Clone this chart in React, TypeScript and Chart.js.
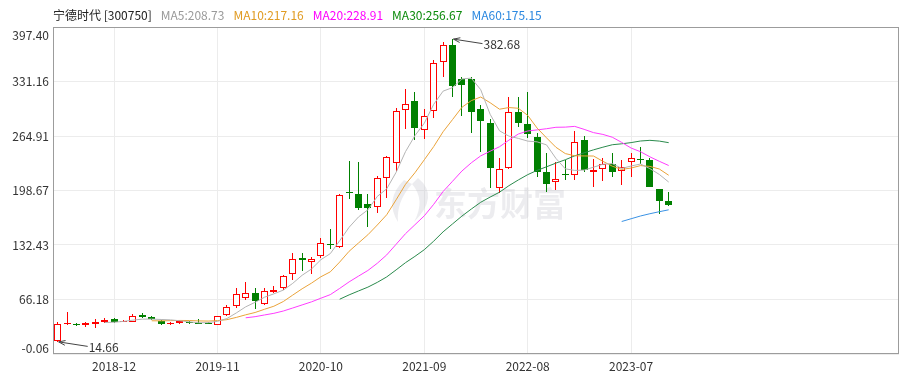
import { useEffect, useRef } from 'react';
import { Chart, registerables } from 'chart.js';

Chart.register(...registerables);

const FONT = '"Noto Sans CJK SC", "Noto Sans", sans-serif';

const months = [
  '2018-06', '2018-07', '2018-08', '2018-09', '2018-10', '2018-11', '2018-12',
  '2019-01', '2019-02', '2019-03', '2019-04', '2019-05', '2019-06', '2019-07', '2019-08', '2019-09', '2019-10', '2019-11', '2019-12',
  '2020-01', '2020-02', '2020-03', '2020-04', '2020-05', '2020-06', '2020-07', '2020-08', '2020-09', '2020-10', '2020-11', '2020-12',
  '2021-01', '2021-02', '2021-03', '2021-04', '2021-05', '2021-06', '2021-07', '2021-08', '2021-09', '2021-10', '2021-11', '2021-12',
  '2022-01', '2022-02', '2022-03', '2022-04', '2022-05', '2022-06', '2022-07', '2022-08', '2022-09', '2022-10', '2022-11', '2022-12',
  '2023-01', '2023-02', '2023-03', '2023-04', '2023-05', '2023-06', '2023-07', '2023-08', '2023-09', '2023-10', '2023-11',
];

const opens = [
  15.5, 37.0, 37.0, 34.6, 37.0, 38.9, 42.2, 39.3, 39.4, 47.4,
  44.6, 40.2, 36.3, 37.8, 38.5, 37.5, 38.0, 35.7, 47.1, 58.0,
  68.0, 73.6, 61.3, 75.4, 79.6, 96.6, 116.9, 111.6, 119.3, 133.9,
  130.3, 196.4, 194.4, 182.2, 178.2, 214.3, 231.7, 296.7, 307.6, 272.0,
  295.5, 354.8, 375.8, 334.5, 334.1, 297.9, 280.5, 201.4, 225.7, 293.9,
  279.6, 263.4, 220.8, 208.6, 218.4, 217.6, 260.2, 221.6, 224.5, 230.6,
  222.4, 233.4, 236.7, 235.8, 200.3, 185.9,
];
const closes = [
  37.0, 37.5, 34.8, 38.2, 39.0, 41.8, 38.9, 40.0, 45.8, 45.0,
  42.2, 36.5, 37.5, 40.6, 38.0, 37.0, 37.0, 45.8, 57.2, 72.3,
  74.0, 64.5, 76.7, 77.8, 95.0, 114.9, 113.7, 114.9, 134.4, 132.0,
  193.2, 195.3, 177.7, 177.7, 213.5, 239.3, 295.5, 303.6, 274.4, 289.8,
  353.6, 375.8, 325.1, 327.1, 294.6, 283.7, 226.2, 224.5, 294.6, 281.2,
  267.1, 221.6, 206.2, 212.6, 217.6, 257.4, 223.7, 223.7, 230.6, 221.6,
  227.7, 238.7, 235.8, 202.6, 186.2, 181.4,
];
const highs = [
  38.5, 50.4, 38.0, 39.0, 42.0, 43.5, 43.5, 41.0, 48.4, 49.7,
  46.0, 41.8, 38.5, 41.5, 40.5, 43.0, 39.0, 46.5, 59.4, 79.7,
  88.0, 79.7, 79.7, 82.0, 96.4, 122.2, 122.2, 117.7, 141.2, 151.4,
  195.0, 234.6, 233.0, 194.4, 216.3, 241.1, 298.8, 321.9, 318.4, 297.5,
  356.7, 379.5, 382.68, 337.2, 337.2, 302.8, 285.0, 237.9, 312.9, 312.9,
  318.2, 268.3, 244.0, 233.8, 235.8, 271.5, 265.1, 237.0, 237.9, 244.8,
  235.8, 244.0, 251.3, 237.9, 201.1, 197.2,
];
const lows = [
  14.66, 34.9, 34.0, 33.0, 31.5, 38.0, 38.0, 38.5, 39.0, 43.5,
  40.7, 35.7, 35.0, 36.8, 36.5, 36.5, 36.5, 35.3, 46.0, 56.0,
  66.0, 55.0, 60.0, 73.6, 78.0, 89.7, 101.0, 97.0, 117.0, 127.4,
  129.0, 188.7, 174.9, 153.9, 170.9, 189.0, 222.8, 274.0, 260.2, 261.0,
  286.6, 336.5, 312.2, 289.4, 268.3, 245.9, 202.0, 195.3, 224.5, 276.4,
  262.2, 215.0, 197.3, 199.3, 211.5, 211.5, 221.6, 203.3, 210.3, 215.5,
  205.3, 215.5, 230.6, 202.6, 169.7, 179.8,
];

const ma5 = [
  null, null, null, null, null,
  38.26, 38.54, 39.58, 41.10, 42.30, 42.38,
  41.90, 41.40, 40.36, 38.96, 37.92, 38.02, 39.68, 43.00, 49.86, 57.26,
  62.76, 68.94, 73.06, 77.60, 85.78, 95.62, 103.26, 114.58, 121.98, 137.64,
  153.96, 166.52, 175.18, 191.48, 200.70, 220.74, 245.92, 265.26, 280.52, 303.38,
  319.44, 323.74, 334.28, 335.24, 321.26, 291.34, 271.22, 264.72, 262.04, 258.72,
  257.80, 254.14, 237.74, 225.02, 223.08, 223.50, 227.00, 230.60, 231.40, 225.46,
  228.46, 230.88, 225.28, 218.20, 208.94,
];
const ma10 = [
  null, null, null, null, null, null, null, null, null, null,
  40.32, 40.22, 40.49, 40.73, 40.63, 40.15, 39.96, 40.54, 41.68, 44.41,
  47.59, 50.39, 54.31, 58.03, 63.73, 71.52, 79.19, 86.10, 93.82, 99.79,
  111.71, 124.79, 134.89, 144.88, 156.73, 169.17, 187.35, 206.22, 220.22, 236.00,
  252.04, 270.09, 284.83, 299.77, 307.88, 312.32, 305.39, 297.48, 299.50, 298.64,
  289.99, 274.57, 262.68, 251.23, 243.53, 240.90, 240.65, 240.57, 234.17, 228.21,
  224.27, 225.98, 228.94, 227.94, 224.80, 217.20,
];
const ma20 = [
  null, null, null, null, null, null, null, null, null, null,
  null, null, null, null, null, null, null, null, null, null,
  43.96, 45.31, 47.40, 49.38, 52.18, 55.84, 59.58, 63.32, 67.75, 72.10,
  79.65, 87.59, 94.60, 101.46, 110.23, 120.35, 133.27, 146.16, 157.02, 167.90,
  181.88, 197.44, 209.86, 222.33, 232.31, 240.75, 246.37, 251.85, 259.86, 267.32,
  271.02, 272.33, 273.76, 275.50, 275.71, 276.61, 273.02, 269.03, 266.84, 263.43,
  257.13, 250.28, 245.81, 239.59, 234.17, 229.05,
];
const ma30 = [
  null, null, null, null, null, null, null, null, null, null,
  null, null, null, null, null, null, null, null, null, null,
  null, null, null, null, null, null, null, null, null, null,
  66.54, 71.80, 76.56, 81.21, 87.03, 93.61, 102.17, 110.95, 118.57, 126.73,
  137.11, 148.42, 158.01, 167.56, 176.11, 184.34, 190.64, 196.60, 204.51, 211.48,
  217.91, 223.15, 227.47, 231.96, 236.05, 240.80, 244.46, 248.09, 251.30, 254.28,
  255.43, 256.88, 258.82, 259.65, 258.74, 256.81,
];
const ma60 = [
  null, null, null, null, null, null, null, null, null, null,
  null, null, null, null, null, null, null, null, null, null,
  null, null, null, null, null, null, null, null, null, null,
  null, null, null, null, null, null, null, null, null, null,
  null, null, null, null, null, null, null, null, null, null,
  null, null, null, null, null, null, null, null, null, null,
  160.99, 164.34, 167.69, 170.43, 172.88, 175.21,
];

const xTickLabels = ['2018-12', '2019-11', '2020-10', '2021-09', '2022-08', '2023-07'];
const yTickValues = [-0.06, 66.18, 132.43, 198.67, 264.91, 331.16, 397.4];
const SLOTS = 90;

const title = '宁德时代 [300750]';
const legendItems = [
  { text: 'MA5:208.73', color: '#9a9a9a' },
  { text: 'MA10:217.16', color: '#e09b22' },
  { text: 'MA20:228.91', color: '#ff00ff' },
  { text: 'MA30:256.67', color: '#0a8a0a' },
  { text: 'MA60:175.15', color: '#2b88e0' },
];
const highMark = { index: 42, value: 382.68, label: '382.68' };
const lowMark = { index: 0, value: 14.66, label: '14.66' };

const RED = '#ff0000';
const GREEN = '#008000';

function drawArrow(ctx: CanvasRenderingContext2D, tx: number, ty: number, fx: number, fy: number) {
  ctx.beginPath();
  ctx.moveTo(fx, fy);
  ctx.lineTo(tx, ty);
  ctx.stroke();
  const ang = Math.atan2(fy - ty, fx - tx);
  const len = 7;
  ctx.beginPath();
  ctx.moveTo(tx + len * Math.cos(ang + 0.35), ty + len * Math.sin(ang + 0.35));
  ctx.lineTo(tx, ty);
  ctx.lineTo(tx + len * Math.cos(ang - 0.35), ty + len * Math.sin(ang - 0.35));
  ctx.stroke();
}

const pixelSnap = {
  id: 'pixelSnap',
  afterDatasetsUpdate(chart: any) {
    chart.data.datasets.forEach((ds: any, di: number) => {
      if (ds.type !== 'bar') return;
      const meta = chart.getDatasetMeta(di);
      meta.data.forEach((el: any) => {
        el.x = Math.floor(el.x) + 0.5;
        el.y = Math.round(el.y);
        el.base = Math.round(el.base);
      });
    });
  },
};

const overlay = {
  id: 'overlay',
  beforeDatasetsDraw(chart: any) {
    const { ctx } = chart;
    ctx.save();
    ctx.fillStyle = 'rgba(200,200,208,0.35)';
    ctx.beginPath();
    ctx.moveTo(404, 180);
    ctx.quadraticCurveTo(384, 200, 398, 222);
    ctx.quadraticCurveTo(396, 202, 412, 184);
    ctx.closePath();
    ctx.fill();
    ctx.beginPath();
    ctx.moveTo(418, 178);
    ctx.quadraticCurveTo(440, 196, 414, 222);
    ctx.quadraticCurveTo(426, 200, 412, 184);
    ctx.closePath();
    ctx.fill();
    ctx.font = `bold 33px ${FONT}`;
    ctx.textAlign = 'left';
    ctx.textBaseline = 'middle';
    ctx.fillText('东方财富', 434, 203);
    ctx.restore();
  },
  afterDraw(chart: any) {
    const { ctx, chartArea: a, scales } = chart;
    const x = scales.x;
    const y = scales.y;
    ctx.save();
    ctx.strokeStyle = '#9c9c9c';
    ctx.lineWidth = 1;
    ctx.strokeRect(Math.round(a.left) + 0.5, Math.round(a.top) + 0.5, Math.round(a.right - a.left) - 1, Math.round(a.bottom - a.top) - 1);

    ctx.font = `12px ${FONT}`;
    ctx.fillStyle = '#333333';
    ctx.textAlign = 'right';
    ctx.textBaseline = 'middle';
    yTickValues.forEach((v) => {
      let py = y.getPixelForValue(v);
      py = Math.max(a.top + 8, Math.min(a.bottom - 6, py));
      ctx.fillText(v.toFixed(2), 49, py);
    });
    ctx.textAlign = 'center';
    xTickLabels.forEach((lab) => {
      const i = months.indexOf(lab);
      ctx.fillText(lab, x.getPixelForValue(i), 366);
    });

    ctx.textAlign = 'left';
    ctx.textBaseline = 'middle';
    let hx = 53;
    ctx.fillStyle = '#222222';
    ctx.fillText(title, hx, 15);
    hx += ctx.measureText(title).width + 9;
    legendItems.forEach((it) => {
      ctx.fillStyle = it.color;
      ctx.fillText(it.text, hx, 15);
      hx += ctx.measureText(it.text).width + 9;
    });

    ctx.strokeStyle = '#444444';
    ctx.fillStyle = '#333333';
    ctx.lineWidth = 1;
    [highMark, lowMark].forEach((m) => {
      const px = x.getPixelForValue(m.index);
      const py = y.getPixelForValue(m.value);
      drawArrow(ctx, px + 1, py, px + 30, py + 4.5);
      ctx.textAlign = 'left';
      ctx.fillText(m.label, px + 31, py + 5.5);
    });
    ctx.restore();
  },
};

export default function App() {
  const ref = useRef<HTMLCanvasElement>(null);
  useEffect(() => {
    document.body.style.margin = '0';
    const canvas = ref.current!;
    const idx = closes.map((_, i) => i);
    const up = idx.map((i) => closes[i] >= opens[i]);
    const line = (label: string, arr: (number | null)[], color: string) => ({
      type: 'line' as const,
      label,
      data: idx.filter((i) => arr[i] !== null).map((i) => ({ x: i, y: arr[i] })),
      borderColor: color,
      borderWidth: 1,
      pointRadius: 0,
      tension: 0,
      order: 0,
    });
    const chart = new Chart(canvas, {
      type: 'bar',
      data: {
        datasets: [
          line('MA5', ma5, '#b4b4b4'),
          line('MA10', ma10, '#eaa33a'),
          line('MA20', ma20, '#ff3cff'),
          line('MA30', ma30, '#2a8a4c'),
          line('MA60', ma60, '#3a92e4'),
          {
            type: 'bar',
            label: 'body',
            data: idx.map((i) => ({ x: i, y: [opens[i], closes[i]] })),
            backgroundColor: idx.map((i) => (up[i] ? '#ffffff' : GREEN)),
            borderColor: idx.map((i) => (up[i] ? RED : GREEN)),
            borderWidth: 1,
            borderSkipped: false,
            inflateAmount: 0,
            barThickness: 7,
            grouped: false,
            minBarLength: 1,
            order: 1,
          } as any,
          {
            type: 'bar',
            label: 'wick',
            data: idx.map((i) => ({ x: i, y: [lows[i], highs[i]] })),
            backgroundColor: idx.map((i) => (up[i] ? RED : GREEN)),
            borderWidth: 0,
            inflateAmount: 0,
            barThickness: 1,
            grouped: false,
            order: 2,
          } as any,
        ],
      },
      options: {
        responsive: false,
        animation: false,
        events: [],
        layout: { padding: { left: 53, top: 27, right: 12, bottom: 22 } },
        plugins: { legend: { display: false }, tooltip: { enabled: false } },
        scales: {
          x: {
            type: 'linear',
            min: -0.5,
            max: SLOTS - 0.5,
            offset: false,
            ticks: { display: false },
            grid: { color: '#ececec', drawTicks: false, offset: false },
            border: { display: false },
            afterBuildTicks: (s: any) => {
              s.ticks = xTickLabels.map((l) => ({ value: months.indexOf(l) }));
            },
          },
          y: {
            type: 'linear',
            min: yTickValues[0],
            max: yTickValues[yTickValues.length - 1],
            beginAtZero: false,
            ticks: { display: false },
            grid: { color: '#ececec', drawTicks: false },
            border: { display: false },
            afterBuildTicks: (s: any) => {
              s.ticks = yTickValues.map((v) => ({ value: v }));
            },
          },
        },
      } as any,
      plugins: [pixelSnap, overlay],
    });
    return () => chart.destroy();
  }, []);
  return (
    <div style={{ width: 911, height: 376 }}>
      <canvas ref={ref} width={911} height={376} style={{ display: 'block' }} />
    </div>
  );
}
